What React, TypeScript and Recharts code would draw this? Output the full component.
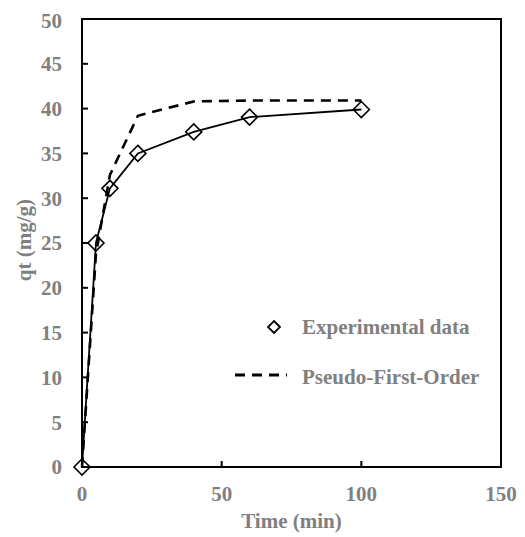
import {
  ComposedChart,
  Line,
  XAxis,
  YAxis,
  ReferenceArea,
  Label,
} from "recharts";

const times = [0, 5, 10, 20, 40, 60, 100];
const experimental = [0, 25, 31.1, 35, 37.4, 39.05, 39.9];
const pseudoFirstOrder = [0, 23.8, 32.6, 39.2, 40.8, 40.9, 40.9];
const xTicks = [0, 50, 100, 150];
const yTicks = [0, 5, 10, 15, 20, 25, 30, 35, 40, 45, 50];

const GREY = "#808080";
const FONT = "'Liberation Serif', 'Times New Roman', serif";

const data = times.map((t, i) => ({
  time: t,
  exp: experimental[i],
  pfo: pseudoFirstOrder[i],
}));

const tickStyle = { fontSize: 21, fontWeight: 700, fill: GREY, fontFamily: FONT };

function Diamond(props: any) {
  const { cx, cy, index } = props;
  if (cx == null || cy == null) return null;
  const r = 8;
  return (
    <path
      key={`d-${index}`}
      d={`M${cx},${cy - r} L${cx + r},${cy} L${cx},${cy + r} L${cx - r},${cy} Z`}
      fill="none"
      stroke="#000"
      strokeWidth={1.6}
    />
  );
}

function LegendBox() {
  const row = { display: "flex", alignItems: "center", height: 50 };
  const text = { fontFamily: FONT, fontSize: 21, fontWeight: 700, color: GREY };
  return (
    <div style={{ position: "absolute", left: 227, top: 294, width: 270 }}>
      <div style={row}>
        <svg width={67} height={20}>
          <path d="M39,4 L45,10 L39,16 L33,10 Z" fill="none" stroke="#000" strokeWidth={1.8} />
        </svg>
        <span style={text}>Experimental data</span>
      </div>
      <div style={row}>
        <svg width={67} height={20}>
          <line x1={0} y1={8} x2={52} y2={8} stroke="#000" strokeWidth={3} strokeDasharray="10 7" />
        </svg>
        <span style={text}>Pseudo-First-Order</span>
      </div>
    </div>
  );
}

export default function App() {
  return (
    <div style={{ position: "relative", width: 517, height: 529 }}>
      <ComposedChart
        width={517}
        height={529}
        data={data}
        margin={{ top: 11, right: 24, bottom: 40, left: 14 }}
      >
        <XAxis
          dataKey="time"
          type="number"
          domain={[0, 150]}
          ticks={xTicks}
          tick={tickStyle}
          tickSize={-6}
          tickMargin={25}
          height={30}
          axisLine={{ stroke: "#000", strokeWidth: 2 }}
          tickLine={{ stroke: "#000", strokeWidth: 2 }}
        >
          <Label
            value="Time (min)"
            position="bottom"
            offset={16}
            style={{ fontSize: 21, fontWeight: 700, fill: GREY, fontFamily: FONT }}
          />
        </XAxis>
        <YAxis
          type="number"
          domain={[0, 50]}
          ticks={yTicks}
          tick={tickStyle}
          tickSize={-6}
          tickMargin={26}
          width={60}
          axisLine={{ stroke: "#000", strokeWidth: 2 }}
          tickLine={{ stroke: "#000", strokeWidth: 2 }}
          label={{
            content: (p: any) => {
              const vb = p.viewBox || {};
              const x = vb.x + 2;
              const y = vb.y + vb.height / 2 - 3;
              return (
                <text
                  x={x}
                  y={y}
                  transform={`rotate(-90 ${x} ${y})`}
                  textAnchor="middle"
                  dominantBaseline="central"
                  style={{ fontSize: 21, fontWeight: 700, fill: GREY, fontFamily: FONT }}
                >
                  qt (mg/g)
                </text>
              );
            },
          }}
        />
        <ReferenceArea
          x1={0}
          x2={150}
          y1={0}
          y2={50}
          fill="none"
          fillOpacity={0}
          stroke="#000"
          strokeWidth={2}
        />
        <Line
          dataKey="pfo"
          type="linear"
          stroke="#000"
          strokeWidth={2.6}
          strokeDasharray="10 7"
          dot={false}
          activeDot={false}
          isAnimationActive={false}
        />
        <Line
          dataKey="exp"
          type="linear"
          stroke="#000"
          strokeWidth={1.8}
          dot={<Diamond />}
          activeDot={false}
          isAnimationActive={false}
        />
      </ComposedChart>
      <LegendBox />
    </div>
  );
}
